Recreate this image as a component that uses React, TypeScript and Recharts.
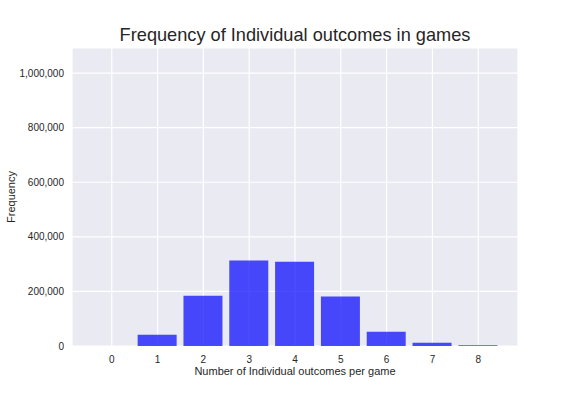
import { BarChart, Bar, XAxis, YAxis, CartesianGrid } from 'recharts'

const outcomes = [0, 1, 2, 3, 4, 5, 6, 7, 8]
const frequency = [300, 41500, 184500, 313000, 309000, 181000, 52500, 12000, 3000]
const xTicks = [0, 1, 2, 3, 4, 5, 6, 7, 8]
const yTicks = [0, 200000, 400000, 600000, 800000, 1000000]

const chartData = outcomes.map((n, i) => ({ n, freq: frequency[i] }))

const FONT = '"Liberation Sans", Arial, sans-serif'
const TEXT = '#262626'

export default function App() {
  return (
    <div style={{ position: 'absolute', left: 0, top: 0, width: 576, height: 396, background: '#fff', fontFamily: FONT }}>
      {/* Title */}
      <div
        style={{
          position: 'absolute',
          left: 72,
          width: 446,
          top: 24,
          textAlign: 'center',
          fontSize: 18.2,
          color: TEXT,
          lineHeight: '22px',
        }}
      >
        Frequency of Individual outcomes in games
      </div>
      <BarChart
        width={576}
        height={396}
        data={chartData}
        margin={{ top: 48, right: 58, bottom: 0, left: 7 }}
      >
        <CartesianGrid stroke="#ffffff" strokeWidth={1.2} fill="#eaeaf2" fillOpacity={1} />
        <XAxis
          dataKey="n"
          type="number"
          domain={[-0.8675, 8.8675]}
          ticks={xTicks}
          allowDataOverflow
          height={50}
          axisLine={false}
          tickLine={false}
          tick={{ fill: TEXT, fontSize: 10, fontFamily: FONT }}
          tickMargin={4}
          label={{
            value: 'Number of Individual outcomes per game',
            position: 'insideTop',
            offset: 21,
            fill: TEXT,
            fontSize: 11,
            fontFamily: FONT,
          }}
        />
        <YAxis
          type="number"
          domain={[0, 1092000]}
          ticks={yTicks}
          allowDataOverflow
          width={65}
          axisLine={false}
          tickLine={false}
          tick={{ fill: TEXT, fontSize: 10, fontFamily: FONT }}
          tickMargin={2}
          tickFormatter={(v: number) => v.toLocaleString('en-US')}
          label={{
            value: 'Frequency',
            angle: -90,
            position: 'insideLeft',
            offset: 4,
            fill: TEXT,
            fontSize: 11,
            fontFamily: FONT,
            style: { textAnchor: 'middle' },
          }}
        />
        <Bar dataKey="freq" fill="#0000ff" fillOpacity={0.7} barSize={39} isAnimationActive={false} />
      </BarChart>
    </div>
  )
}
